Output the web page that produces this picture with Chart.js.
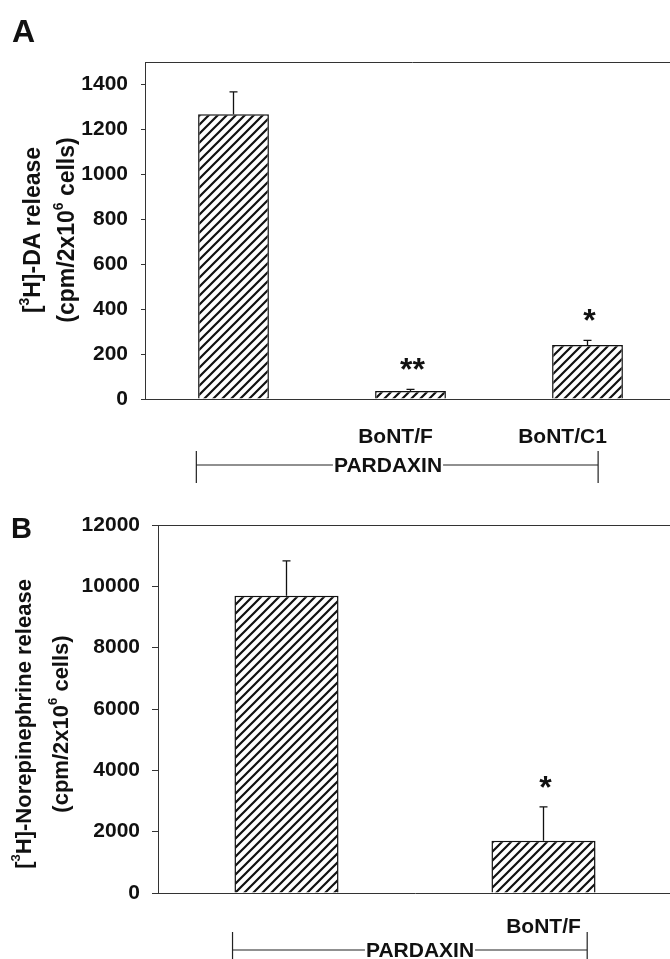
<!DOCTYPE html>
<html>
<head>
<meta charset="utf-8">
<script src="https://cdn.jsdelivr.net/npm/chart.js@4.4.1/dist/chart.umd.min.js"></script>
<style>
  html, body { margin: 0; padding: 0; background: #fff; overflow: hidden; width: 670px; height: 959px; }
  .panel { position: absolute; left: 0; }
</style>
</head>
<body>
<div class="panel" style="top:0"><canvas id="chartA" width="680" height="486"></canvas></div>
<div class="panel" style="top:480px"><canvas id="chartB" width="680" height="479"></canvas></div>
<script>
// panel A - [3H]-DA release
var labelsA = ['', 'BoNT/F', 'BoNT/C1'];
var valuesA = [1267, 36, 240];
var errorsA = [100, 7, 21];
var starsA = ['', '**', '*'];
var ticksA = [0, 200, 400, 600, 800, 1000, 1200, 1400];

// panel B - [3H]-Norepinephrine release
var labelsB = ['', 'BoNT/F'];
var valuesB = [9690, 1700];
var errorsB = [1140, 1110];
var starsB = ['', '*'];
var ticksB = [0, 2000, 4000, 6000, 8000, 10000, 12000];

// axis titles, [text, superscript?]
var titleA = [[['[', 0], ['3', 1], ['H]-DA release', 0]], [['(cpm/2x10', 0], ['6', 1], [' cells)', 0]]];
var titleB = [[['[', 0], ['3', 1], ['H]-Norepinephrine release', 0]], [['(cpm/2x10', 0], ['6', 1], [' cells)', 0]]];

var FONT = "'Liberation Sans', Arial, Helvetica, sans-serif";
var INK = '#111';

function hatch() {
  var n = 9;
  var c = document.createElement('canvas');
  c.width = n; c.height = n;
  var g = c.getContext('2d');
  g.fillStyle = '#fff';
  g.fillRect(0, 0, n, n);
  g.strokeStyle = INK;
  g.lineWidth = 2.2;
  g.beginPath();
  g.moveTo(-2, n + 2); g.lineTo(n + 2, -2);
  g.moveTo(-2, 2); g.lineTo(2, -2);
  g.moveTo(n - 2, n + 2); g.lineTo(n + 2, n - 2);
  g.stroke();
  return g.createPattern(c, 'repeat');
}

function richText(ctx, parts, size) {
  var w = 0;
  parts.forEach(function (p) {
    ctx.font = 'bold ' + (p[1] ? size * 0.6 : size) + 'px ' + FONT;
    w += ctx.measureText(p[0]).width;
  });
  var x = -w / 2;
  parts.forEach(function (p) {
    ctx.font = 'bold ' + (p[1] ? size * 0.6 : size) + 'px ' + FONT;
    ctx.fillText(p[0], x, p[1] ? -size * 0.38 : 0);
    x += ctx.measureText(p[0]).width;
  });
}

var extras = {
  id: 'extras',
  afterDraw: function (chart, args, o) {
    var ctx = chart.ctx, a = chart.chartArea, xs = chart.scales.x, ys = chart.scales.y;
    var ds = chart.data.datasets[0];
    var meta = chart.getDatasetMeta(0);
    ctx.save();

    // top frame line
    ctx.strokeStyle = '#333';
    ctx.lineWidth = 1;
    ctx.beginPath();
    ctx.moveTo(a.left, a.top + 0.5);
    ctx.lineTo(chart.width, a.top + 0.5);
    ctx.stroke();

    // error bars (upper only) and significance stars
    ctx.fillStyle = INK;
    ctx.textAlign = 'center';
    ctx.textBaseline = 'alphabetic';
    meta.data.forEach(function (bar, i) {
      var top = ys.getPixelForValue(ds.data[i] + ds.errors[i]);
      ctx.strokeStyle = INK;
      ctx.lineWidth = 1.3;
      ctx.beginPath();
      ctx.moveTo(bar.x, bar.y);
      ctx.lineTo(bar.x, top);
      ctx.moveTo(bar.x - 4, top);
      ctx.lineTo(bar.x + 4, top);
      ctx.stroke();
      if (ds.stars[i]) {
        ctx.font = 'bold 32px ' + FONT;
        ctx.fillText(ds.stars[i], bar.x + 2, top - 9);
      }
    });

    // category labels
    ctx.font = 'bold 21px ' + FONT;
    ctx.textBaseline = 'middle';
    chart.data.labels.forEach(function (lab, i) {
      if (lab) ctx.fillText(lab, xs.getPixelForValue(i) + o.labelShift[i], o.labelY);
    });

    // PARDAXIN bracket
    var b = o.bracket;
    var x1 = xs.getPixelForValue(b.from), x2 = xs.getPixelForValue(b.to);
    var tw = ctx.measureText(b.text).width;
    ctx.strokeStyle = '#222';
    ctx.lineWidth = 1.2;
    ctx.beginPath();
    ctx.moveTo(x1, b.y); ctx.lineTo(b.textX - tw / 2 - 1, b.y);
    ctx.moveTo(b.textX + tw / 2 + 1, b.y); ctx.lineTo(x2, b.y);
    ctx.moveTo(x1, b.tickTop); ctx.lineTo(x1, b.tickBottom);
    ctx.moveTo(x2, b.tickTop); ctx.lineTo(x2, b.tickBottom);
    ctx.stroke();
    ctx.textBaseline = 'alphabetic';
    ctx.fillText(b.text, b.textX, b.y + 7);

    // y axis title, rotated
    o.title.forEach(function (line, k) {
      ctx.save();
      ctx.translate(o.titleX[k], o.titleY);
      ctx.rotate(-Math.PI / 2);
      ctx.textAlign = 'left';
      ctx.textBaseline = 'middle';
      richText(ctx, line, o.titleSize);
      ctx.restore();
    });

    // panel letter
    ctx.textAlign = 'left';
    ctx.textBaseline = 'alphabetic';
    ctx.font = 'bold ' + o.letterSize + 'px ' + FONT;
    ctx.fillText(o.letter, o.letterX, o.letterY);
    ctx.restore();
  }
};

function makeChart(id, labels, values, errors, stars, ticks, ymax, cfg) {
  return new Chart(document.getElementById(id), {
    type: 'bar',
    data: {
      labels: labels,
      datasets: [{
        data: values,
        errors: errors,
        stars: stars,
        backgroundColor: hatch(),
        borderColor: INK,
        borderWidth: 1.5,
        categoryPercentage: 1,
        barPercentage: cfg.barPct
      }]
    },
    options: {
      responsive: false,
      animation: false,
      devicePixelRatio: 1,
      layout: { padding: { top: cfg.top, right: cfg.right, left: 0, bottom: 0 } },
      plugins: {
        legend: { display: false },
        tooltip: { enabled: false },
        extras: cfg.extras
      },
      scales: {
        x: {
          grid: { display: false },
          border: { display: true, color: '#333', width: 1 },
          ticks: { display: false },
          afterFit: function (s) { s.height = cfg.xHeight; }
        },
        y: {
          min: 0,
          max: ymax,
          afterBuildTicks: function (s) { s.ticks = ticks.map(function (v) { return { value: v }; }); },
          afterFit: function (s) { s.width = cfg.yWidth; },
          grid: { drawOnChartArea: false, drawTicks: true, tickLength: cfg.tickLen, color: '#333' },
          border: { display: true, color: '#333', width: 1 },
          ticks: {
            color: INK,
            padding: cfg.tickPad,
            font: { family: FONT, size: 21, weight: 'bold' },
            callback: function (v) { return String(v); }
          }
        }
      }
    },
    plugins: [extras]
  });
}

makeChart('chartA', labelsA, valuesA, errorsA, starsA, ticksA, 1500, {
  barPct: 0.4, top: 62, right: 4, xHeight: 87, yWidth: 145, tickLen: 4, tickPad: 13,
  extras: {
    labelShift: [0, -15, -25], labelY: 437,
    bracket: { from: -0.21, to: 2.06, y: 465, tickTop: 451, tickBottom: 483, text: 'PARDAXIN', textX: 388 },
    title: titleA, titleX: [34, 68], titleY: 230, titleSize: 23,
    letter: 'A', letterX: 12, letterY: 42, letterSize: 32
  }
});

makeChart('chartB', labelsB, valuesB, errorsB, starsB, ticksB, 12000, {
  barPct: 0.405, top: 45, right: 8, xHeight: 66, yWidth: 158, tickLen: 6, tickPad: 12,
  extras: {
    labelShift: [0, 0], labelY: 447,
    bracket: { from: -0.21, to: 1.17, y: 470, tickTop: 452, tickBottom: 485, text: 'PARDAXIN', textX: 420 },
    title: titleB, titleX: [25, 62], titleY: 244, titleSize: 22,
    letter: 'B', letterX: 11, letterY: 58, letterSize: 29
  }
});
</script>
</body>
</html>
